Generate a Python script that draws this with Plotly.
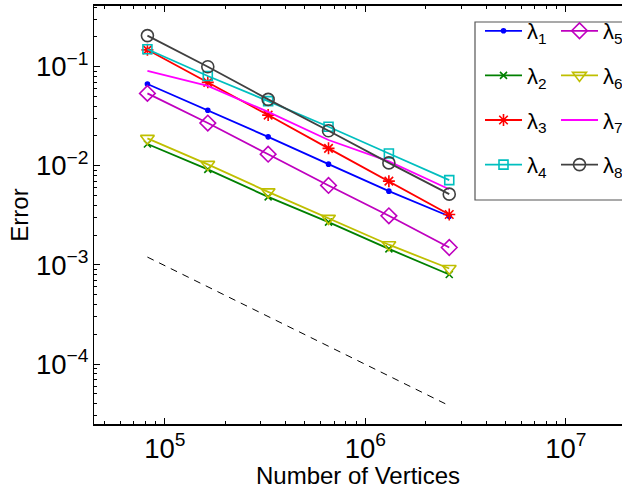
import plotly.graph_objects as go

# ---- data ----
vertices = [81920, 163840, 327680, 655360, 1310720, 2621440]

lam1 = [0.0669, 0.0363, 0.0196, 0.0104, 0.00555, 0.0031]
lam2 = [0.0166, 0.0092, 0.00486, 0.0027, 0.00145, 0.0008]
lam3 = [0.148, 0.0695, 0.0325, 0.0150, 0.0070, 0.00323]
lam4 = [0.150, 0.0805, 0.045, 0.0248, 0.0133, 0.00718]
lam5 = [0.0538, 0.027, 0.0131, 0.00634, 0.00313, 0.0015]
lam6 = [0.0189, 0.01033, 0.00546, 0.00295, 0.0016, 0.00092]
lam7 = [0.091, 0.064, 0.035, 0.0182, 0.0111, 0.0058]
lam8 = [0.206, 0.100, 0.0468, 0.0226, 0.0107, 0.00518]

ref_x = [81920, 2621440]
ref_y = [1.2e-3, 3.8e-5]

names = ["λ<sub>1</sub>", "λ<sub>2</sub>", "λ<sub>3</sub>", "λ<sub>4</sub>",
         "λ<sub>5</sub>", "λ<sub>6</sub>", "λ<sub>7</sub>", "λ<sub>8</sub>"]
series = [lam1, lam2, lam3, lam4, lam5, lam6, lam7, lam8]

# ---- styles ----
colors = ["#0000ff", "#008000", "#ff0000", "#00bfbf",
          "#bf00bf", "#bfbf00", "#ff00ff", "#404040"]
symbols = ["circle", "x-thin", "asterisk", "square-open",
           "diamond-open", "triangle-down-open", None, "circle-open"]
sizes = [4, 7, 10, 9, 12, 12, 0, 12]

FONT = "Liberation Sans, Arial, Helvetica, sans-serif"

fig = go.Figure()
for i, (nm, ys) in enumerate(zip(names, series)):
    marker = dict(color=colors[i], size=sizes[i],
                  line=dict(color=colors[i], width=1.6))
    if symbols[i] is not None:
        marker["symbol"] = symbols[i]
    fig.add_trace(go.Scatter(
        x=vertices, y=ys, name=nm,
        mode="lines+markers" if symbols[i] else "lines",
        line=dict(color=colors[i], width=1.8),
        marker=marker,
        legend="legend" if i < 4 else "legend2",
        legendgroup=f"g{i}",
    ))

fig.add_trace(go.Scatter(
    x=ref_x, y=ref_y, mode="lines", showlegend=False,
    line=dict(color="black", width=1, dash="7px,6px"),
))

W, H = 622, 489
L, T, B, R = 94, 6, 65, 0
pw, ph = W - L - R, H - T - B


def px(xp):
    return (xp - L) / pw


def py(yp):
    return 1 - (yp - T) / ph


legend_common = dict(
    xanchor="left", yanchor="top",
    bgcolor="rgba(0,0,0,0)", borderwidth=0,
    font=dict(family=FONT, size=22, color="black"),
    itemwidth=37, tracegroupgap=13,
)

fig.update_layout(
    width=W, height=H,
    margin=dict(l=L, r=R, t=T, b=B, autoexpand=False),
    paper_bgcolor="white", plot_bgcolor="white",
    font=dict(family=FONT, size=22, color="black"),
    legend=dict(x=px(480), y=py(10), **legend_common),
    legend2=dict(x=px(556), y=py(10), **legend_common),
    shapes=[dict(type="rect", xref="paper", yref="paper",
                 x0=px(475), x1=px(700), y0=py(200), y1=py(22),
                 line=dict(color="#555555", width=1.2),
                 fillcolor="rgba(0,0,0,0)", layer="above")],
    showlegend=True,
)

fig.update_xaxes(
    type="log", range=[4.647, 7.28],
    title=dict(text="Number of Vertices", font=dict(size=24), standoff=0),
    showgrid=False, zeroline=False,
    showline=True, linecolor="black", linewidth=1.5, mirror="ticks",
    ticks="inside", ticklen=6, tickcolor="black", tickwidth=1,
    dtick=1, exponentformat="power",
    minor=dict(ticks="inside", ticklen=3, tickcolor="black", showgrid=False),
)
fig.update_yaxes(
    type="log", range=[-4.605, -0.3875],
    title=dict(text="Error", font=dict(size=24), standoff=0),
    showgrid=False, zeroline=False,
    showline=True, linecolor="black", linewidth=1.2, mirror=False,
    ticks="inside", ticklen=6, tickcolor="black", tickwidth=1,
    dtick=1, exponentformat="power",
    minor=dict(ticks="inside", ticklen=3, tickcolor="black", showgrid=False),
)

fig.write_html("out.html",
               config={"displayModeBar": False},
               post_script="document.body.style.margin='0';"
                           "document.body.style.overflow='hidden';")
